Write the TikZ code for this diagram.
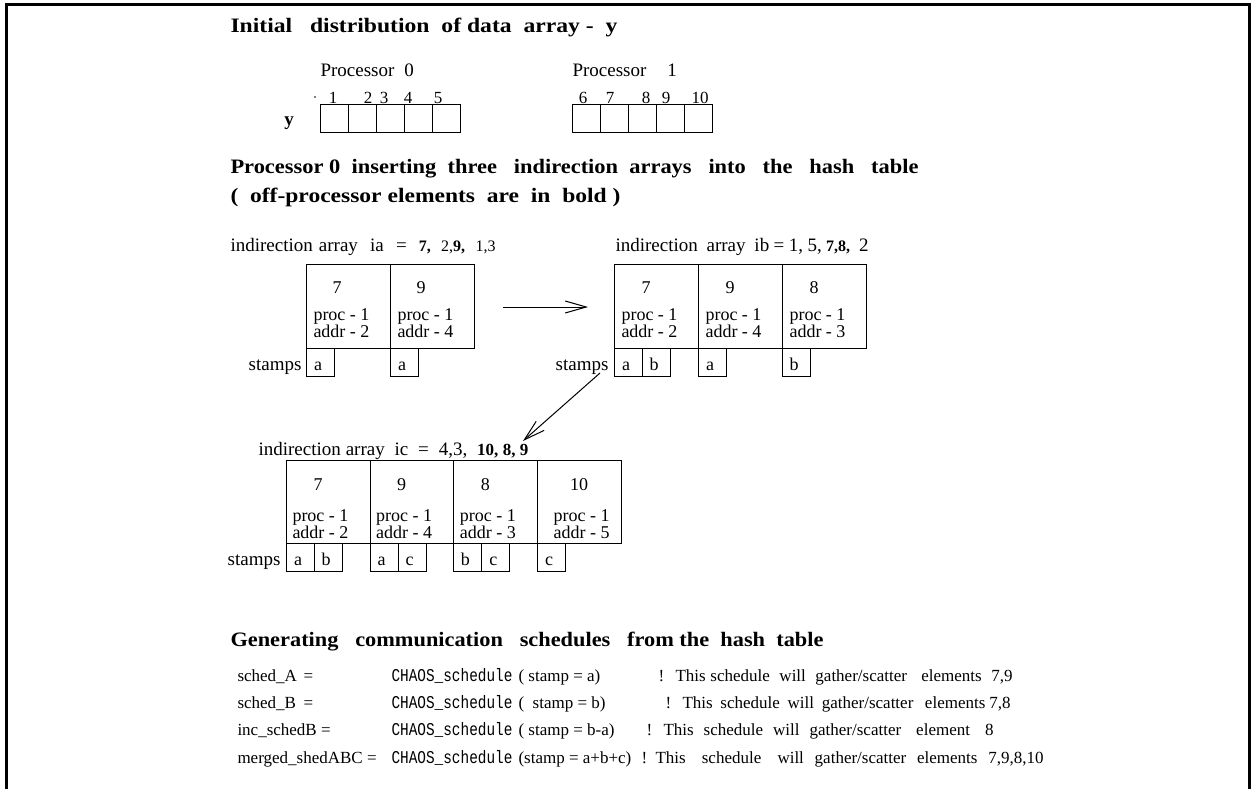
\documentclass[tikz,border=0pt]{standalone}
\usepackage{graphicx}
\usepackage{fontspec}
\setmainfont{Liberation Serif}
\setmonofont{Liberation Mono}
\usetikzlibrary{arrows.meta, positioning}

\begin{document}
\begin{tikzpicture}[x=1pt, y=-1pt, line width=1pt,
  heading/.style={anchor=base west, inner sep=0pt, font=\bfseries\fontsize{20.5}{24}\selectfont},
  txt/.style={anchor=base west, inner sep=0pt, font=\fontsize{19}{23}\selectfont},
  celltxt/.style={anchor=base west, inner sep=0pt, font=\fontsize{18}{21}\selectfont},
  num/.style={anchor=base, inner sep=0pt, font=\fontsize{18}{21}\selectfont},
  idx/.style={anchor=base, inner sep=0pt, font=\fontsize{17}{20}\selectfont},
  sched/.style={anchor=base west, inner sep=0pt, font=\fontsize{17}{20}\selectfont},
  chaos/.style={anchor=base west, inner sep=0pt, font=\ttfamily\fontsize{14.4}{17}\selectfont},
  cellbox/.style={draw, anchor=north west, minimum width=84pt, minimum height=84pt, inner sep=0pt},
  stampbox/.style={draw, anchor=north west, minimum width=28pt, minimum height=28pt, inner sep=0pt},
  barb/.style={-{Straight Barb[length=21pt, width=12pt]}}]
\useasboundingbox (0,0) rectangle (1253,789);
\draw[line width=3pt] (6,789) -- (6,5) -- (1249,5) -- (1249,789);

% initial distribution of y
\node[heading] (t1) at (230,33) {\resizebox{387pt}{\height}{Initial\ \ \ distribution\ \ of data\ \ array -\ \ y}};
\node[txt] (p0) at (320,77) {Processor\hspace{10pt}0};
\node[txt] (p1) at (572,77) {Processor\hspace{21pt}1};
\node[num, font=\bfseries\fontsize{19}{23}\selectfont] (ylab) at (289,126) {y};
\foreach \i in {0,...,4} {
  \node[stampbox] (ya\i) at (320+28*\i,104) {};
  \node[stampbox] (yb\i) at (572+28*\i,104) {};
}
\foreach \x/\n in {333/1, 368/2, 384/3, 408/4, 438/5, 583/6, 610/7, 646/8, 666/9, 700/10}
  \node[idx] (i\n) at (\x,104) {\n};
\fill (315,97) circle (0.8);

% inserting into the hash table
\node[heading] (t2) at (230,174) {\resizebox{688pt}{\height}{Processor 0\ \ inserting\ \ three\ \ \ indirection\ \ arrays\ \ \ into\ \ \ the\ \ \ hash\ \ \ table}};
\node[heading] (t3) at (230,202) {\resizebox{390pt}{\height}{(\ \ off-processor elements\ \ are\ \ in\ \ bold )}};

% ia
\node[txt] (iaT) at (230,251) {\makebox[265pt][s]{indirection array\ \ ia\ \ =\ \ {\fontsize{16}{19}\selectfont\textbf{7,}\ \ 2,\textbf{9,}\ \ 1,3}}};
\foreach \x/\n/\ad [count=\k] in {306/7/2, 390/9/4} {
  \node[cellbox] (ea\k) at (\x,264) {};
  \node[num] (ean\k) at (\x+31,293) {\n};
  \node[celltxt] (eap\k) at (\x+7,320) {proc - 1};
  \node[celltxt] (ead\k) at (\x+7,337) {addr - \ad};
}
\node[txt, anchor=base east] (stA) at (302,370) {stamps};
\foreach \x/\s [count=\k] in {306/a, 390/a} {
  \node[stampbox] (sa\k) at (\x,348) {};
  \node[num] (sal\k) at (\x+12,370) {\s};
}

% ib
\node[txt] (ibT) at (615,251) {\makebox[253pt][s]{indirection\ \ array\ \ ib =\ 1, 5, {\fontsize{16}{19}\selectfont\textbf{7,8,}}\ \ 2}};
\foreach \x/\n/\ad [count=\k] in {614/7/2, 698/9/4, 782/8/3} {
  \node[cellbox] (eb\k) at (\x,264) {};
  \node[num] (ebn\k) at (\x+32,293) {\n};
  \node[celltxt] (ebp\k) at (\x+7,320) {proc - 1};
  \node[celltxt] (ebd\k) at (\x+7,337) {addr - \ad};
}
\node[txt, anchor=base east] (stB) at (609,370) {stamps};
\foreach \x/\s [count=\k] in {614/a, 642/b, 698/a, 782/b} {
  \node[stampbox] (sb\k) at (\x,348) {};
  \node[num] (sbl\k) at (\x+12,370) {\s};
}

% ic
\node[txt] (icT) at (258,455) {\makebox[270pt][s]{indirection array\ \ ic\ \ =\ \ 4,3,\ \ {\fontsize{17}{20}\selectfont\textbf{10, 8, 9}}}};
\foreach \x/\n/\ad/\dx [count=\k] in {286/7/2/0, 369.7/9/4/0, 453.4/8/3/0, 537.1/10/5/10} {
  \node[cellbox, minimum width=83.7pt, minimum height=83pt] (ec\k) at (\x,460) {};
  \node[num] (ecn\k) at (\x+32+\dx,490) {\n};
  \node[celltxt] (ecp\k) at (\x+6+\dx,521) {proc - 1};
  \node[celltxt] (ecd\k) at (\x+6+\dx,538) {addr - \ad};
}
\node[txt, anchor=base east] (stC) at (281,565) {stamps};
\foreach \x/\s [count=\k] in {286/a, 314/b, 369.7/a, 397.7/c, 453.4/b, 481.4/c, 537.1/c} {
  \node[stampbox] (sc\k) at (\x,543) {};
  \node[num] (scl\k) at (\x+12,565) {\s};
}

% arrows between the tables
\coordinate (arA) at (503,307);
\coordinate (arB) at (588,307);
\coordinate (arC) at (600,373);
\coordinate (arD) at (523,441);
\draw[barb] (arA) -- (arB);
\draw[barb] (arC) -- (arD);

% schedules
\node[heading] (t4) at (230,646) {\resizebox{593pt}{\height}{Generating\ \ \ communication\ \ \ schedules\ \ \ from the\ \ hash\ \ table}};

\node[sched] (s1n) at (237,681) {sched\_A};
\node[sched] (s1e) at (303,681) {=};
\node[chaos] (s1c) at (391,681) {\scalebox{1}[1.25]{CHAOS\_schedule}};
\node[sched] (s1a) at (518,681) {( stamp = a)};
\node[sched] (s1x) at (658,681) {!};
\node[sched] (s1m) at (675,681) {\makebox[337pt][s]{This schedule\ \ will\ \ gather/scatter\ \ \ elements\ \ 7,9}};

\node[sched] (s2n) at (237,708) {sched\_B};
\node[sched] (s2e) at (303,708) {=};
\node[chaos] (s2c) at (391,708) {\scalebox{1}[1.25]{CHAOS\_schedule}};
\node[sched] (s2a) at (518,708) {(\ \ stamp = b)};
\node[sched] (s2x) at (665,708) {!};
\node[sched] (s2m) at (682,708) {\makebox[328pt][s]{This\ \ schedule\ \ will\ \ gather/scatter\ \ \ elements 7,8}};

\node[sched] (s3n) at (237,735) {inc\_schedB =};
\node[chaos] (s3c) at (391,735) {\scalebox{1}[1.25]{CHAOS\_schedule}};
\node[sched] (s3a) at (518,735) {( stamp = b-a)};
\node[sched] (s3x) at (646,735) {!};
\node[sched] (s3m) at (663,735) {\makebox[330pt][s]{This\ \ schedule\ \ will\ \ gather/scatter\ \ \ element\ \ \ 8}};

\node[sched] (s4n) at (237,763) {merged\_shedABC =};
\node[chaos] (s4c) at (391,763) {\scalebox{1}[1.25]{CHAOS\_schedule}};
\node[sched] (s4a) at (518,763) {(stamp = a+b+c)};
\node[sched] (s4x) at (641,763) {!};
\node[sched] (s4m) at (655,763) {\makebox[388pt][s]{This\ \ \ schedule\ \ \ will\ \ gather/scatter\ \ elements\ \ 7,9,8,10}};
\end{tikzpicture}
\end{document}
